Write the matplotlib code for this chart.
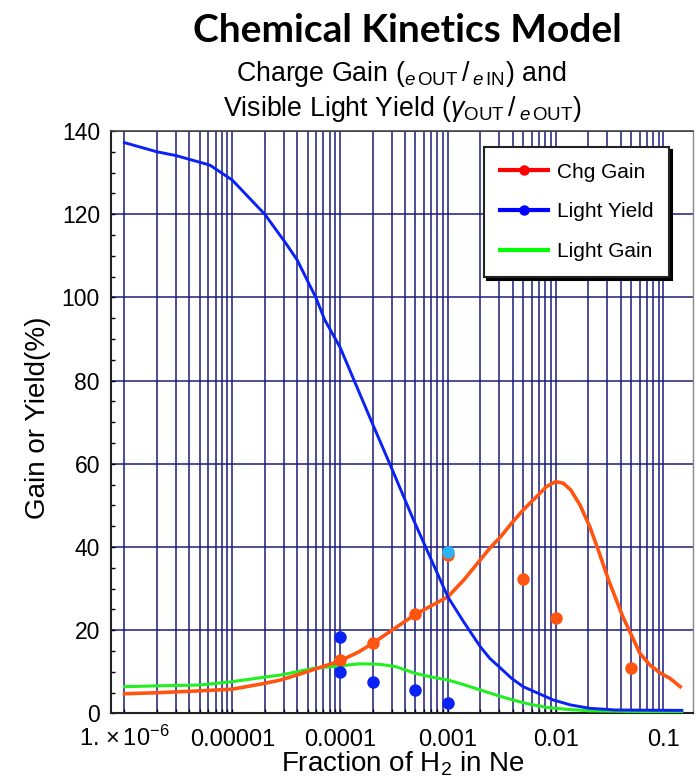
import matplotlib
matplotlib.use("Agg")
import matplotlib.pyplot as plt
from matplotlib.lines import Line2D
from matplotlib.ticker import FixedLocator, NullFormatter

plt.rcParams['font.family'] = ['Liberation Sans', 'DejaVu Sans']
plt.rcParams['mathtext.fontset'] = 'custom'
plt.rcParams['mathtext.rm'] = 'Liberation Sans'
plt.rcParams['mathtext.it'] = 'Liberation Sans:italic'
plt.rcParams['mathtext.bf'] = 'Liberation Sans:bold'

# --- model curves -----------------------------------------------------------
yield_x = [1e-6, 2e-6, 3e-6, 6.2e-6, 1e-5, 2e-5, 3.1e-5, 4e-5, 6e-5, 7.2e-5,
           1e-4, 2e-4, 3e-4, 4.8e-4, 1e-3, 1.4e-3, 2e-3, 2.45e-3, 3.1e-3,
           3.9e-3, 5e-3, 6.9e-3, 9.5e-3, 1.38e-2, 2.07e-2, 3.6e-2, 0.148]
yield_y = [137.2, 135.0, 134.1, 131.8, 128.2, 120.0, 113.2, 109.0, 99.8, 94.6,
           88.0, 69.6, 59.0, 46.5, 28.0, 22.0, 16.0, 13.2, 10.8,
           8.4, 6.4, 4.8, 3.2, 2.0, 1.2, 0.8, 0.7]

gain_x = [1e-6, 2e-6, 5e-6, 1e-5, 2e-5, 2.8e-5, 4.2e-5, 1e-4, 1.5e-4, 2e-4,
          5e-4, 1e-3, 1.4e-3, 2e-3, 2.45e-3, 3.1e-3, 3.9e-3, 5e-3, 6.9e-3,
          8.2e-3, 1e-2, 1.18e-2, 1.38e-2, 1.68e-2, 2.07e-2, 2.48e-2, 3.1e-2,
          4.2e-2, 6.05e-2, 7.5e-2, 9.3e-2, 0.115, 0.143]
gain_y = [4.7, 4.95, 5.4, 5.8, 7.2, 8.0, 9.4, 12.6, 14.8, 16.8,
          23.8, 28.0, 32.0, 36.9, 39.7, 42.5, 45.7, 48.9, 52.5,
          54.5, 55.7, 55.3, 53.7, 50.1, 44.9, 39.3, 32.0,
          23.2, 14.4, 11.6, 9.7, 8.4, 6.4]

lgain_x = [1e-6, 2e-6, 5e-6, 1e-5, 2e-5, 2.8e-5, 4e-5, 5.6e-5, 1e-4, 1.5e-4,
           2.3e-4, 3.3e-4, 5e-4, 6.8e-4, 1e-3, 1.4e-3, 2e-3, 2.8e-3, 4e-3,
           5.7e-3, 8.3e-3, 1.26e-2, 2.07e-2, 0.148]
lgain_y = [6.4, 6.6, 6.8, 7.6, 8.7, 9.2, 10.0, 10.8, 11.4, 11.9,
           11.8, 11.2, 9.6, 8.8, 8.0, 6.9, 5.6, 4.4, 3.2,
           2.2, 1.4, 0.96, 0.6, 0.3]

# --- measured points --------------------------------------------------------
chg_x = [1e-4, 2e-4, 5e-4, 1e-3, 5e-3, 1e-2, 5e-2]
chg_y = [12.9, 16.8, 23.8, 38.0, 32.3, 22.8, 10.8]
ly_x = [1e-4, 1e-4, 2e-4, 5e-4, 1e-3]
ly_y = [18.3, 10.0, 7.45, 5.6, 2.4]
extra_x = [1e-3]
extra_y = [38.9]

xtick_vals = [1e-6, 1e-5, 1e-4, 1e-3, 1e-2, 1e-1]
xtick_labels = [r"$1.\,{\times}\,10^{-6}$", "0.00001", "0.0001", "0.001", "0.01", "0.1"]
ytick_vals = [0, 20, 40, 60, 80, 100, 120, 140]
legend_labels = ["Chg Gain", "Light Yield", "Light Gain"]

GRID = '#1c1c7c'
ORANGE = '#ff5511'
BLUE = '#0a22f5'
GREEN = '#22ee22'

fig = plt.figure(figsize=(6.95, 7.79), dpi=100)
W, H = 695.0, 779.0
ax = fig.add_axes([111 / W, 1 - 713.3 / H, 582 / W, 582.3 / H])

ax.set_xscale('log')
ax.set_xlim(10 ** -6.125, 10 ** -0.726)
ax.set_ylim(0, 140)

minor_vals = [m * 10.0 ** k for k in range(-6, -1) for m in range(2, 10)]
ax.xaxis.set_major_locator(FixedLocator(xtick_vals))
ax.xaxis.set_minor_locator(FixedLocator(minor_vals))
ax.xaxis.set_minor_formatter(NullFormatter())
ax.set_xticklabels(xtick_labels)
ax.yaxis.set_major_locator(FixedLocator(ytick_vals))
ax.yaxis.set_minor_locator(FixedLocator(list(range(0, 141, 5))))

ax.grid(True, which='both', axis='x', color=GRID, lw=1.1)
ax.grid(True, which='major', axis='y', color=GRID, lw=1.1)
ax.set_axisbelow(True)

ax.tick_params(which='both', direction='in', length=3, width=1, color='black',
               top=False, right=False)
ax.tick_params(axis='y', which='major', labelsize=16.5, pad=8)
ax.tick_params(axis='x', which='major', labelsize=17, pad=23.5)
for lab in ax.get_xticklabels():
    lab.set_verticalalignment('baseline')

for side in ['left', 'bottom']:
    ax.spines[side].set_color('#222222')
    ax.spines[side].set_linewidth(1.5)
ax.spines['top'].set_color('#444444')
ax.spines['top'].set_linewidth(1.2)
ax.spines['right'].set_color('#888888')
ax.spines['right'].set_linewidth(1.0)

ax.plot(lgain_x, lgain_y, color=GREEN, lw=2.2, zorder=3)
ax.plot(gain_x, gain_y, color=ORANGE, lw=2.6, zorder=3)
ax.plot(yield_x, yield_y, color=BLUE, lw=2.1, zorder=3)

ax.plot(chg_x, chg_y, 'o', color=ORANGE, ms=9, mec='none', zorder=4)
ax.plot(ly_x, ly_y, 'o', color=BLUE, ms=9, mec='none', zorder=4)
ax.plot(extra_x, extra_y, 'o', color='#2ab4f5', ms=9, mec='none', zorder=5)

handles = [
    Line2D([], [], color='#ff0000', lw=3, marker='o', ms=6.5),
    Line2D([], [], color='#0000ff', lw=3, marker='o', ms=6.5),
    Line2D([], [], color='#00ff00', lw=3),
]
leg = ax.legend(handles, legend_labels, loc='upper right',
                bbox_to_anchor=(0.959, 0.9725), borderaxespad=0,
                frameon=True, fancybox=False, edgecolor='#222222',
                framealpha=1, shadow={'color': 'black', 'alpha': 1},
                fontsize=15, handlelength=2.3, handletextpad=0.45,
                labelspacing=1.0, borderpad=0.75)
leg.get_frame().set_linewidth(1.5)
leg.set_zorder(10)

fig.text(407 / W, 1 - 42 / H, 'Chemical Kinetics Model', ha='center',
         va='baseline', fontsize=28, fontweight='bold', family='Lato')
fig.text(401 / W, 1 - 81 / H,
         r"Charge Gain (${}_{e\,\mathrm{OUT}}\,/\,{}_{e\,\mathrm{IN}}$) and",
         ha='center', va='baseline', fontsize=19.3)
fig.text(402 / W, 1 - 116 / H,
         r"Visible Light Yield ($\gamma_{\mathrm{OUT}}\,/\,{}_{e\,\mathrm{OUT}}$)",
         ha='center', va='baseline', fontsize=19.3)

fig.text(38 / W, 1 - 417.5 / H, 'Gain or Yield(%)', rotation=90,
         ha='center', va='center', fontsize=20)
fig.text(403 / W, 1 - 772 / H, r'Fraction of H$_2$ in Ne', ha='center',
         va='baseline', fontsize=20)

fig.savefig('out.png', dpi=100)
